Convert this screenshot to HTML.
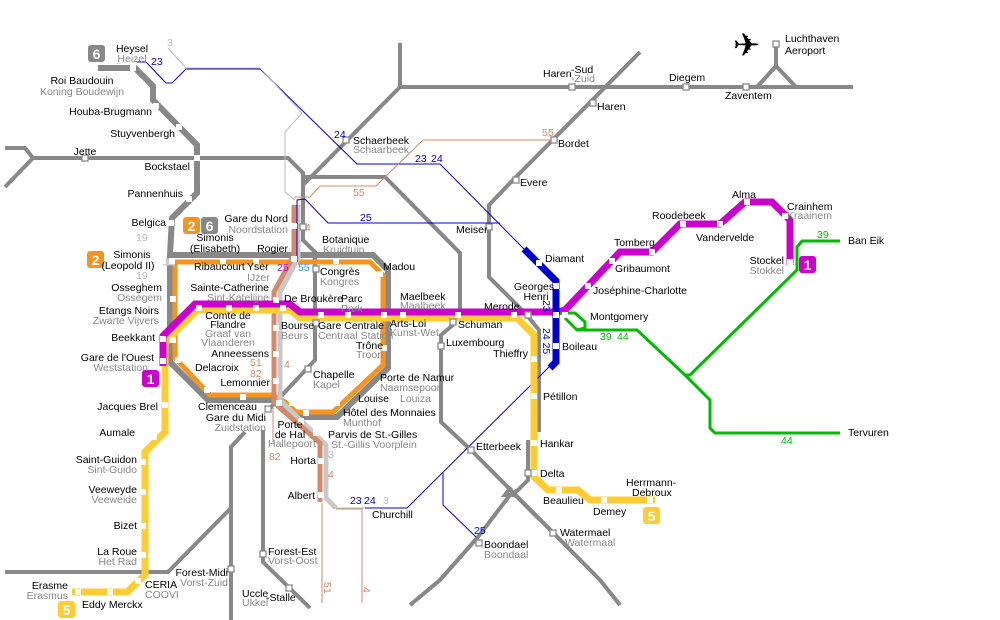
<!DOCTYPE html>
<html><head><meta charset="utf-8"><style>
html,body{margin:0;padding:0;background:#fff;}
svg{display:block;font-family:"Liberation Sans",sans-serif;font-size:10.5px;}
.g{fill:#888}
.k{fill:#000}
.rail{fill:none;stroke:#888;stroke-width:4}
.st{fill:#fff;stroke:#888;stroke-width:1.3}
.ws{fill:#fff}
</style></head><body>
<svg width="1000" height="620" viewBox="0 0 1000 620" xmlns="http://www.w3.org/2000/svg">
<g class="rail">
<polyline points="5,148 25,148 33,158 288,158 303,173 303,240 315,252 315,360 270,408"/>
<polyline points="5,187 33,158"/>
<polyline points="303,185 400,87 400,43"/>
<polyline points="400,87 853,87"/>
<polyline points="757,87 776,66 796,87"/>
<polyline points="776,66 776,45"/>
<polyline points="305,177 385,177 460,253 460,318"/>
<polyline points="640,52 510,183 489,205 489,277 525,313 539,330 539,432"/>
<polyline points="453,325 441,335 441,422 471,450 600,580 620,605"/>
<polyline points="528,440 528,480 518,490 510,495 478,537 440,580 410,605"/>
<polyline points="511,487 505,495 515,495 540,520"/>
<polyline points="245,432 231,447 231,625"/>
<polyline points="5,572 168,572 231,508"/>
<polyline points="263,430 263,562 310,608"/>
</g>
<polyline points="93,68 135,68 150,83 153,86 153,100 197,145 197,193 172,218 170,255 373,255 388,270 388,368 337,417 292,417 280,402 272,400 208,400 170,362 170,255" fill="none" stroke="#888" stroke-width="6"/>
<polyline points="175,262 370,262 383,275 383,365 333,412 296,412 285,402 272,395 210,395 175,358 175,262" fill="none" stroke="#f7941d" stroke-width="5"/>
<polyline points="163,262 175,262" stroke="#ccc" stroke-width="7"/>
<polyline points="298,205 298,258 280,292 280,400 286,406 326,445 326,498 336,508" fill="none" stroke="#c8c8c8" stroke-width="5"/>
<polyline points="294,205 294,255 274,292 274,402 280,408 320,443 320,502" fill="none" stroke="#d4896a" stroke-width="5"/>
<g fill="none" stroke-width="1">
<polyline stroke="#00c" points="137,62 146,62 166,83 172,83 186,69 260,69 357,164 440,164 525,250"/>
<polyline stroke="#bbb" points="168,48 186,68 260,68 302,113 285,132 285,192 295,200"/>
<polyline stroke="#00c" points="297,262 297,200 305,199 328,223 500,223"/>
<polyline stroke="#d4896a" points="294,197 310,197 320,186 376,186 423,140 553,140"/>
<polyline stroke="#00c" points="363,508 407,508 553,363"/>
<polyline stroke="#00c" points="443,473 443,505 476,537"/>
<polyline stroke="#bbb" points="332,508 365,508"/>
<polyline stroke="#d4896a" points="322,503 322,603"/>
<polyline stroke="#d4896a" points="336,509 362,509 362,603"/>
<polyline stroke="#d4896a" points="273,408 273,442"/>
</g>
<polyline points="655,500 590,500 578,490 548,490 534,477 534,335 517,318 300,318 290,310 197,310 167,340 165,345 165,432 145,452 145,575 127,592 72,592" fill="none" stroke="#fc3" stroke-width="7"/>
<polyline points="790,265 790,220 772,202 745,202 720,224 680,224 652,252 620,252 565,310 558,312 300,312 290,304 195,304 163,336 163,366" fill="none" stroke="#c0c" stroke-width="7"/>
<polyline points="524,249 556,281 556,362 550,368" fill="none" stroke="#00c" stroke-width="7"/>
<g fill="none" stroke="#0b0" stroke-width="3">
<polyline points="560,313 575,313 585,322 585,328 577,330 565,318"/>
<polyline points="577,330 637,330 685,375 710,400 710,428 715,433 840,433"/>
<polyline points="685,375 690,375 797,270 797,247 802,241 840,241"/>
</g>
<g class="ws">
<rect x="92" y="65" width="6" height="6"/><rect x="130" y="65" width="6" height="6"/>
<rect x="153" y="103" width="6" height="6"/><rect x="176" y="124" width="6" height="6"/>
<rect x="194" y="155" width="6" height="6"/><rect x="186" y="196" width="6" height="6"/>
<rect x="168" y="220" width="6" height="6"/><rect x="169" y="258" width="6" height="6"/>
<rect x="160" y="258" width="6" height="6"/>
<rect x="220" y="258" width="6" height="6"/><rect x="253" y="258" width="6" height="6"/>
<rect x="291" y="256" width="6" height="6"/><rect x="333" y="258" width="6" height="6"/>
<rect x="377" y="271" width="6" height="6"/><rect x="381" y="312" width="6" height="6"/>
<rect x="381" y="345" width="6" height="6"/><rect x="360" y="370" width="6" height="6"/>
<rect x="334" y="400" width="6" height="6"/><rect x="303" y="410" width="6" height="6"/>
<rect x="170" y="296" width="6" height="6"/><rect x="170" y="337" width="6" height="6"/>
<rect x="175" y="357" width="6" height="6"/><rect x="204" y="387" width="6" height="6"/>
<rect x="240" y="394" width="6" height="6"/><rect x="276" y="400" width="6" height="6"/>
<rect x="196" y="305" width="6" height="6"/><rect x="226" y="305" width="6" height="6"/>
<rect x="253" y="305" width="6" height="6"/><rect x="273" y="297" width="6" height="6"/>
<rect x="280" y="305" width="6" height="6"/><rect x="318" y="312" width="6" height="6"/>
<rect x="345" y="312" width="6" height="6"/><rect x="400" y="312" width="6" height="6"/>
<rect x="455" y="312" width="6" height="6"/><rect x="511" y="312" width="6" height="6"/>
<rect x="553" y="312" width="6" height="6"/><rect x="562" y="312" width="6" height="6"/>
<rect x="273" y="325" width="6" height="6"/><rect x="273" y="351" width="6" height="6"/>
<rect x="273" y="378" width="6" height="6"/><rect x="289" y="400" width="6" height="6"/>
<rect x="298" y="418" width="6" height="6"/><rect x="313" y="430" width="6" height="6"/>
<rect x="318" y="458" width="6" height="6"/><rect x="318" y="492" width="6" height="6"/>
<rect x="291" y="223" width="6" height="6"/>
<rect x="160" y="336" width="6" height="6"/><rect x="160" y="358" width="6" height="6"/>
<rect x="162" y="402" width="6" height="6"/><rect x="151" y="434" width="6" height="6"/>
<rect x="140" y="459" width="6" height="6"/><rect x="140" y="489" width="6" height="6"/>
<rect x="140" y="523" width="6" height="6"/><rect x="140" y="552" width="6" height="6"/>
<rect x="135" y="578" width="6" height="6"/><rect x="107" y="589" width="6" height="6"/>
<rect x="75" y="589" width="6" height="6"/>
<rect x="531" y="356" width="6" height="6"/><rect x="531" y="393" width="6" height="6"/>
<rect x="531" y="440" width="6" height="6"/><rect x="531" y="470" width="6" height="6"/>
<rect x="556" y="487" width="6" height="6"/><rect x="601" y="497" width="6" height="6"/>
<rect x="647" y="497" width="6" height="6"/>
<rect x="536" y="260" width="6" height="6"/><rect x="553" y="283" width="6" height="6"/>
<rect x="553" y="343" width="6" height="6"/>
<rect x="585" y="283" width="6" height="6"/><rect x="609" y="258" width="6" height="6"/>
<rect x="649" y="249" width="6" height="6"/><rect x="680" y="221" width="6" height="6"/>
<rect x="717" y="221" width="6" height="6"/><rect x="744" y="199" width="6" height="6"/>
<rect x="782" y="213" width="6" height="6"/><rect x="787" y="259" width="6" height="6"/>
</g>
<g class="st">
<rect x="82" y="155" width="6" height="6"/><rect x="343" y="137" width="6" height="6"/>
<rect x="551" y="137" width="6" height="6"/><rect x="513" y="177" width="6" height="6"/>
<rect x="590" y="100" width="6" height="6"/><rect x="569" y="84" width="6" height="6"/>
<rect x="683" y="84" width="6" height="6"/><rect x="743" y="84" width="6" height="6"/>
<rect x="773" y="41" width="6" height="6"/><rect x="486" y="224" width="6" height="6"/>
<rect x="300" y="224" width="6" height="6"/><rect x="313" y="266" width="6" height="6"/>
<rect x="313" y="320" width="6" height="6"/><rect x="305" y="366" width="6" height="6"/>
<rect x="265" y="406" width="6" height="6"/><rect x="450" y="319" width="6" height="6"/>
<rect x="438" y="343" width="6" height="6"/><rect x="525" y="470" width="6" height="6"/>
<rect x="468" y="447" width="6" height="6"/><rect x="550" y="530" width="6" height="6"/>
<rect x="476" y="540" width="6" height="6"/><rect x="228" y="566" width="6" height="6"/>
<rect x="260" y="551" width="6" height="6"/><rect x="286" y="585" width="6" height="6"/>
<rect x="525" y="312" width="6" height="6"/>
</g>
<g font-weight="bold" font-size="14" fill="#fff" text-anchor="middle">
<rect x="88" y="45" width="17" height="17" rx="3" fill="#888"/><text x="96.5" y="59">6</text>
<rect x="183" y="217" width="17" height="17" rx="3" fill="#f7941d"/><text x="191.5" y="231">2</text>
<rect x="201" y="217" width="17" height="17" rx="3" fill="#888"/><text x="209.5" y="231">6</text>
<rect x="87" y="251" width="17" height="17" rx="3" fill="#f7941d"/><text x="95.5" y="265">2</text>
<rect x="142" y="370" width="17" height="17" rx="3" fill="#c0c"/><text x="150.5" y="384">1</text>
<rect x="799" y="256" width="17" height="17" rx="3" fill="#c0c"/><text x="807.5" y="270">1</text>
<rect x="643" y="507" width="17" height="17" rx="3" fill="#fc3"/><text x="651.5" y="521">5</text>
<rect x="58" y="601" width="17" height="17" rx="3" fill="#fc3"/><text x="66.5" y="615">5</text>
</g>
<text x="733" y="56" font-family="DejaVu Sans" font-size="32" fill="#000">✈</text>
<g class="k">
<text x="132" y="52" text-anchor="middle">Heysel</text>
<text x="82" y="84" text-anchor="middle">Roi Baudouin</text>
<text x="152" y="115" text-anchor="end">Houba-Brugmann</text>
<text x="175" y="137" text-anchor="end">Stuyvenbergh</text>
<text x="85" y="155" text-anchor="middle">Jette</text>
<text x="190" y="170" text-anchor="end">Bockstael</text>
<text x="183" y="197" text-anchor="end">Pannenhuis</text>
<text x="166" y="226" text-anchor="end">Belgica</text>
<text x="215" y="241" text-anchor="middle">Simonis</text>
<text x="215" y="252" text-anchor="middle">(Elisabeth)</text>
<text x="132" y="258" text-anchor="middle">Simonis</text>
<text x="128" y="269" text-anchor="middle">(Leopold II)</text>
<text x="288" y="222" text-anchor="end">Gare du Nord</text>
<text x="288" y="252" text-anchor="end">Rogier</text>
<text x="322" y="243">Botanique</text>
<text x="320" y="275">Congrès</text>
<text x="383" y="270">Madou</text>
<text x="194" y="270">Ribaucourt</text>
<text x="247" y="270">Yser</text>
<text x="269" y="291" text-anchor="end">Sainte-Catherine</text>
<text x="284" y="302">De Broukère</text>
<text x="341" y="302">Parc</text>
<text x="400" y="300">Maelbeek</text>
<text x="484" y="310">Merode</text>
<text x="534" y="290" text-anchor="middle">Georges</text>
<text x="536" y="300" text-anchor="middle">Henri</text>
<text x="545" y="262">Diamant</text>
<text x="593" y="294">Joséphine-Charlotte</text>
<text x="615" y="272">Gribaumont</text>
<text x="614" y="246">Tomberg</text>
<text x="652" y="219">Roodebeek</text>
<text x="696" y="241">Vandervelde</text>
<text x="732" y="198">Alma</text>
<text x="787" y="210">Crainhem</text>
<text x="784" y="264" text-anchor="end">Stockel</text>
<text x="848" y="244">Ban Eik</text>
<text x="848" y="436">Tervuren</text>
<text x="590" y="320">Montgomery</text>
<text x="562" y="350">Boileau</text>
<text x="528" y="357" text-anchor="end">Thieffry</text>
<text x="543" y="400">Pétillon</text>
<text x="540" y="447">Hankar</text>
<text x="540" y="477">Delta</text>
<text x="543" y="504">Beaulieu</text>
<text x="593" y="515">Demey</text>
<text x="626" y="486">Herrmann-</text>
<text x="632" y="496">Debroux</text>
<text x="560" y="536">Watermael</text>
<text x="484" y="548">Boondael</text>
<text x="476" y="450">Etterbeek</text>
<text x="372" y="518">Churchill</text>
<text x="458" y="328">Schuman</text>
<text x="446" y="346">Luxembourg</text>
<text x="456" y="233">Meiser</text>
<text x="390" y="327">Arts-Loi</text>
<text x="318" y="329">Gare Centrale</text>
<text x="356" y="349">Trône</text>
<text x="380" y="381">Porte de Namur</text>
<text x="358" y="402">Louise</text>
<text x="343" y="416">Hôtel des Monnaies</text>
<text x="328" y="438">Parvis de St.-Gilles</text>
<text x="316" y="464" text-anchor="end">Horta</text>
<text x="315" y="499" text-anchor="end">Albert</text>
<text x="313" y="378">Chapelle</text>
<text x="281" y="329">Bourse</text>
<text x="269" y="357" text-anchor="end">Anneessens</text>
<text x="270" y="386" text-anchor="end">Lemonnier</text>
<text x="228" y="319" text-anchor="middle">Comte de</text>
<text x="228" y="328" text-anchor="middle">Flandre</text>
<text x="195" y="371">Delacroix</text>
<text x="198" y="410">Clemenceau</text>
<text x="266" y="421" text-anchor="end">Gare du Midi</text>
<text x="290" y="428" text-anchor="middle">Porte</text>
<text x="290" y="438" text-anchor="middle">de Hal</text>
<text x="159" y="314" text-anchor="end">Etangs Noirs</text>
<text x="162" y="291" text-anchor="end">Osseghem</text>
<text x="155" y="341" text-anchor="end">Beekkant</text>
<text x="154" y="361" text-anchor="end">Gare de l'Ouest</text>
<text x="158" y="410" text-anchor="end">Jacques Brel</text>
<text x="135" y="436" text-anchor="end">Aumale</text>
<text x="137" y="463" text-anchor="end">Saint-Guidon</text>
<text x="137" y="493" text-anchor="end">Veeweyde</text>
<text x="137" y="529" text-anchor="end">Bizet</text>
<text x="137" y="555" text-anchor="end">La Roue</text>
<text x="68" y="589" text-anchor="end">Erasme</text>
<text x="145" y="588">CERIA</text>
<text x="82" y="608">Eddy Merckx</text>
<text x="228" y="576" text-anchor="end">Forest-Midi</text>
<text x="268" y="555">Forest-Est</text>
<text x="242" y="597">Uccle</text>
<text x="266" y="601">-Stalle</text>
<text x="353" y="144">Schaerbeek</text>
<text x="558" y="147">Bordet</text>
<text x="520" y="186">Evere</text>
<text x="597" y="110">Haren</text>
<text x="543" y="77">Haren</text>
<text x="571" y="73">-Sud</text>
<text x="669" y="81">Diegem</text>
<text x="725" y="99">Zaventem</text>
<text x="785" y="42">Luchthaven</text>
<text x="785" y="54">Aeroport</text>
</g>
<g class="g">
<text x="132" y="62" text-anchor="middle">Heizel</text>
<text x="82" y="95" text-anchor="middle">Koning Boudewijn</text>
<text x="288" y="233" text-anchor="end">Noordstation</text>
<text x="323" y="253">Kruidtuin</text>
<text x="320" y="285">Kongres</text>
<text x="247" y="281">IJzer</text>
<text x="269" y="301" text-anchor="end">Sint-Katelijne</text>
<text x="341" y="312">Park</text>
<text x="400" y="309">Maalbeek</text>
<text x="787" y="219">Kraainem</text>
<text x="784" y="274" text-anchor="end">Stokkel</text>
<text x="565" y="546">Watermaal</text>
<text x="484" y="558">Boondaal</text>
<text x="390" y="336">Kunst-Wet</text>
<text x="318" y="339">Centraal Station</text>
<text x="356" y="358">Troon</text>
<text x="380" y="391">Naamsepoort</text>
<text x="400" y="402">Louiza</text>
<text x="343" y="426">Munthof</text>
<text x="331" y="448">St.-Gillis Voorplein</text>
<text x="313" y="388">Kapel</text>
<text x="281" y="339">Beurs</text>
<text x="228" y="337" text-anchor="middle">Graaf van</text>
<text x="228" y="346" text-anchor="middle">Vlaanderen</text>
<text x="266" y="431" text-anchor="end">Zuidstation</text>
<text x="268" y="447">Hallepoort</text>
<text x="159" y="324" text-anchor="end">Zwarte Vijvers</text>
<text x="162" y="301" text-anchor="end">Ossegem</text>
<text x="148" y="371" text-anchor="end">Weststation</text>
<text x="137" y="473" text-anchor="end">Sint-Guido</text>
<text x="137" y="503" text-anchor="end">Veeweide</text>
<text x="137" y="565" text-anchor="end">Het Rad</text>
<text x="68" y="599" text-anchor="end">Erasmus</text>
<text x="145" y="598">COOVI</text>
<text x="228" y="586" text-anchor="end">Vorst-Zuid</text>
<text x="268" y="564">Vorst-Oost</text>
<text x="242" y="606">Ukkel</text>
<text x="353" y="153">Schaarbeek</text>
<text x="571" y="82">-Zuid</text>
</g>
<g font-size="10.5">
<text x="136" y="241" fill="#bbb">19</text><text x="136" y="279" fill="#bbb">19</text>
<text x="167" y="46" fill="#bbb">3</text>
<text x="151" y="65" fill="#00c">23</text>
<text x="334" y="138" fill="#00c">24</text>
<text x="415" y="162" fill="#00c">23</text><text x="431" y="162" fill="#00c">24</text>
<text x="360" y="221" fill="#00c">25</text>
<text x="353" y="196" fill="#d4896a">55</text>
<text x="542" y="136" fill="#d4896a">55</text>
<text x="305" y="231" fill="#d4896a">4</text>
<text x="277" y="271" fill="#c0c">25</text>
<text x="298" y="271" fill="#39f">55</text>
<text x="250" y="366" fill="#d4896a">51</text><text x="250" y="377" fill="#d4896a">82</text>
<text x="284" y="368" fill="#d4896a">4</text>
<text x="269" y="460" fill="#d4896a">82</text>
<text x="328" y="458" fill="#bbb">3</text><text x="328" y="478" fill="#d4896a">4</text>
<text x="350" y="504" fill="#00c">23</text><text x="364" y="504" fill="#00c">24</text>
<text x="383" y="504" fill="#bbb">3</text>
<text x="324" y="582" fill="#d4896a" transform="rotate(90 324 582)">51</text>
<text x="363" y="587" fill="#d4896a" transform="rotate(90 363 587)">4</text>
<text x="474" y="534" fill="#00c">25</text>
<text x="817" y="238" fill="#0b0">39</text>
<text x="600" y="340" fill="#0b0">39</text><text x="617" y="340" fill="#0b0">44</text>
<text x="781" y="444" fill="#0b0">44</text>
<text x="543" y="300" fill="#00c" transform="rotate(90 543 300)">23</text>
<text x="543" y="328" fill="#00c" transform="rotate(90 543 328)">24 25</text>
</g>
</svg>
</body></html>
